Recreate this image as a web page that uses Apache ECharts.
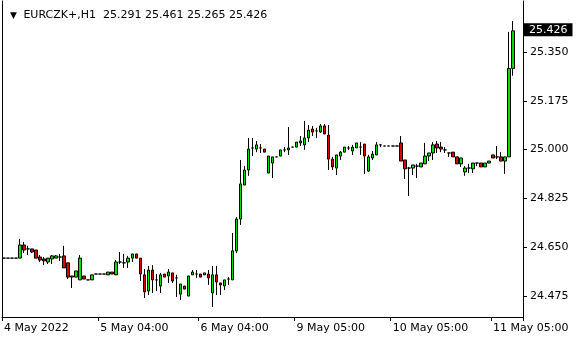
<!DOCTYPE html>
<html><head><meta charset="utf-8">
<script src="https://cdn.jsdelivr.net/npm/echarts@6/dist/echarts.min.js"></script>
<style>html,body{margin:0;padding:0;background:#fff}#c{width:580px;height:340px}</style>
</head><body><div id="c"></div>
<script>
const symbolName = 'EURCZK+,H1';
const opens = [24.611,24.611,24.611,24.611,24.611,24.658,24.644,24.644,24.640,24.615,24.608,24.597,24.608,24.611,24.615,24.619,24.594,24.547,24.543,24.533,24.547,24.533,24.533,24.554,24.554,24.554,24.551,24.561,24.551,24.597,24.594,24.597,24.611,24.626,24.611,24.551,24.493,24.568,24.533,24.511,24.554,24.547,24.558,24.540,24.482,24.511,24.475,24.551,24.554,24.554,24.551,24.554,24.486,24.551,24.522,24.511,24.536,24.533,24.637,24.751,24.873,24.927,25.006,25.002,25.006,25.002,24.916,24.952,24.974,24.977,24.999,24.999,25.009,25.009,25.024,25.017,25.042,25.074,25.067,25.063,25.085,25.052,24.966,24.934,24.977,24.991,25.006,24.995,25.006,25.009,25.020,24.923,24.970,24.981,25.017,25.013,25.013,25.013,25.013,25.024,24.963,24.934,24.934,24.941,24.938,24.949,24.977,24.988,25.020,25.009,24.999,24.988,24.991,24.974,24.949,24.920,24.934,24.931,24.952,24.952,24.938,24.952,24.981,24.974,24.974,24.959,24.974,25.291];
const closes = [24.611,24.611,24.611,24.611,24.658,24.640,24.644,24.633,24.611,24.604,24.601,24.611,24.619,24.619,24.615,24.576,24.543,24.543,24.565,24.611,24.536,24.533,24.551,24.554,24.554,24.554,24.561,24.554,24.597,24.597,24.594,24.611,24.626,24.611,24.554,24.490,24.568,24.533,24.533,24.551,24.543,24.561,24.529,24.540,24.518,24.500,24.547,24.561,24.554,24.543,24.558,24.540,24.551,24.525,24.515,24.533,24.536,24.637,24.751,24.877,24.927,25.002,25.006,25.017,25.006,24.991,24.977,24.974,24.974,24.999,24.999,25.006,25.009,25.027,25.031,25.042,25.070,25.063,25.067,25.085,25.056,24.966,24.938,24.981,24.991,25.009,25.006,25.009,25.024,25.009,24.977,24.974,24.984,25.017,25.017,25.013,25.013,25.013,25.013,24.959,24.931,24.934,24.945,24.941,24.952,24.977,24.988,25.017,25.006,25.002,24.999,24.988,24.974,24.949,24.970,24.934,24.934,24.952,24.952,24.938,24.952,24.959,24.970,24.974,24.959,24.974,25.291,25.426];
const lows = [24.611,24.611,24.611,24.611,24.611,24.629,24.622,24.629,24.611,24.597,24.586,24.590,24.590,24.611,24.601,24.576,24.536,24.504,24.543,24.533,24.536,24.533,24.533,24.554,24.554,24.554,24.551,24.554,24.551,24.590,24.576,24.576,24.597,24.611,24.529,24.468,24.479,24.486,24.493,24.486,24.543,24.522,24.522,24.472,24.461,24.500,24.475,24.551,24.540,24.543,24.551,24.515,24.436,24.479,24.479,24.497,24.515,24.533,24.629,24.730,24.873,24.906,24.977,24.991,24.988,24.991,24.916,24.898,24.974,24.977,24.991,24.981,25.009,25.009,25.013,24.999,25.027,25.049,25.042,25.060,25.056,24.927,24.927,24.909,24.963,24.991,24.999,24.981,25.006,24.981,24.913,24.920,24.963,24.981,25.009,25.013,25.013,25.013,25.013,24.959,24.895,24.834,24.909,24.898,24.938,24.949,24.959,24.963,24.988,24.991,24.988,24.974,24.974,24.949,24.938,24.906,24.916,24.916,24.941,24.938,24.938,24.952,24.970,24.966,24.959,24.913,24.974,25.265];
const highs = [24.611,24.611,24.611,24.611,24.680,24.669,24.655,24.644,24.640,24.622,24.615,24.611,24.622,24.622,24.626,24.655,24.594,24.547,24.565,24.622,24.547,24.533,24.551,24.554,24.554,24.554,24.561,24.561,24.604,24.633,24.626,24.619,24.626,24.626,24.611,24.572,24.583,24.586,24.554,24.558,24.554,24.572,24.558,24.551,24.518,24.511,24.547,24.568,24.568,24.554,24.558,24.568,24.583,24.583,24.522,24.533,24.543,24.701,24.758,24.963,24.941,25.042,25.042,25.031,25.020,25.002,24.977,24.974,24.974,24.999,25.009,25.081,25.009,25.027,25.049,25.103,25.088,25.085,25.078,25.092,25.092,25.088,24.974,24.981,24.995,25.009,25.013,25.017,25.024,25.027,25.020,24.981,24.995,25.027,25.020,25.013,25.013,25.013,25.013,25.049,24.963,24.938,24.945,24.949,24.952,25.024,24.988,25.027,25.031,25.027,25.009,24.988,24.991,24.974,24.970,24.941,24.949,24.952,24.952,24.952,24.952,24.959,24.981,25.013,24.991,24.974,25.422,25.461];
const xTickIndex = [0, 24, 49, 73, 97, 122];
const xTickLabels = ['4 May 2022', '5 May 04:00', '6 May 04:00', '9 May 05:00', '10 May 05:00', '11 May 05:00'];
const yTickValues = [24.475, 24.650, 24.825, 25.000, 25.175, 25.350];

const categories = opens.map((_, i) => String(i));
const candles = opens.map((o, i) => [o, closes[i], lows[i], highs[i]]);
const n = opens.length;
const last = n - 1;
const font = 'DejaVu Sans';
const f3 = v => Number(v).toFixed(3);

const chart = echarts.init(document.getElementById('c'), null, {renderer: 'canvas'});
chart.setOption({
  animation: false,
  backgroundColor: '#fff',
  title: {
    left: 5, top: 5,
    text: '{t|▼} ' + symbolName + '  ' + [opens[last], highs[last], lows[last], closes[last]].map(f3).join(' '),
    textStyle: {
      fontFamily: font, fontSize: 11, fontWeight: 'normal', color: '#000',
      rich: { t: { fontFamily: font, fontSize: 9, color: '#000', padding: [0, 3, 0, 0] } }
    }
  },
  grid: { left: 2, right: 57, top: 1, bottom: 23 },
  xAxis: {
    type: 'category', data: categories, boundaryGap: true, max: n + 1,
    axisLine: { show: true, lineStyle: { color: '#000', width: 1 } },
    axisTick: { show: true, length: 4, lineStyle: { color: '#000' },
      interval: (i) => xTickIndex.includes(i) },
    axisLabel: {
      interval: (i) => xTickIndex.includes(i),
      formatter: (v, i) => { const k = xTickIndex.indexOf(Number(v)); return k >= 0 ? xTickLabels[k] : ''; },
      align: 'left', margin: 6, fontFamily: font, fontSize: 11, color: '#000'
    },
    splitLine: { show: false }
  },
  yAxis: [{
    type: 'value', position: 'right', min: 24.3999, max: 25.5329, scale: true,
    axisLine: { show: true, lineStyle: { color: '#000', width: 1 } },
    axisTick: { show: true, length: 4, customValues: yTickValues, lineStyle: { color: '#000' } },
    axisLabel: { customValues: yTickValues, formatter: v => f3(v), margin: 7,
      fontFamily: font, fontSize: 11, color: '#000' },
    splitLine: { show: false }
  }, {
    type: 'value', position: 'left', min: 24.3999, max: 25.5329,
    axisLine: { show: true, onZero: false, lineStyle: { color: '#000', width: 1 } },
    axisTick: { show: false }, axisLabel: { show: false }, splitLine: { show: false }
  }],
  series: [{
    type: 'candlestick', data: candles, barWidth: 3, yAxisIndex: 0, clip: false,
    itemStyle: { color: '#00e000', color0: '#e00000', borderColor: '#000', borderColor0: '#000', borderWidth: 1 },
    markLine: {
      silent: true, symbol: ['none', 'none'], animation: false,
      lineStyle: { color: 'rgba(255,255,255,0)', width: 1, type: 'solid' },
      label: { show: true, position: 'end', distance: 1, formatter: () => f3(closes[last]),
        backgroundColor: '#000', color: '#fff', padding: [1, 5, 0, 5], lineHeight: 12,
        fontFamily: font, fontSize: 11, opacity: 1 },
      emphasis: { disabled: true },
      data: [{ yAxis: closes[last] }]
    }
  }]
});
</script></body></html>
